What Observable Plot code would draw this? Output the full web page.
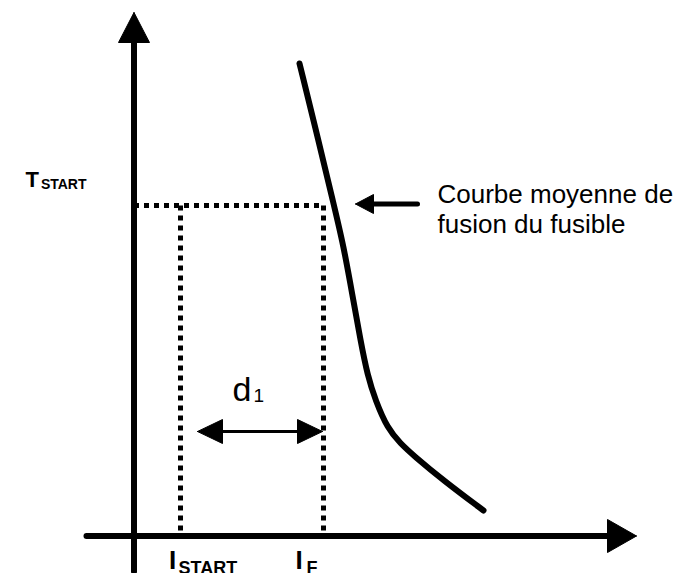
<!DOCTYPE html>
<html>
<head>
<meta charset="utf-8">
<script src="https://cdn.jsdelivr.net/npm/d3@7"></script>
<script src="https://cdn.jsdelivr.net/npm/@observablehq/plot@0.6"></script>
<style>
  html, body { margin: 0; padding: 0; background: #fff; }
  #chart svg { display: block; }
</style>
</head>
<body>
<div id="chart"></div>
<script>
// ---- Data (schematic units: current I along x, time T along y, origin at axes crossing) ----
const xAxisExtent = [-9.5, 100.5];          // current axis: left end, arrow tip
const yAxisExtent = [-7.1, 104.7];          // time axis: bottom end, arrow tip
const iStart = 9.3;                          // I_START
const iF = 37.9;                             // I_F
const tStart = 66.1;                         // T_START
const curveI = [33.1, 36.9, 39.9, 41.9, 43.7, 45.3, 46.7, 48.3, 50.7, 53.3, 55.9, 61.9, 69.9];
const curveT = [94.5, 79.1, 66.5, 58.1, 48.1, 39.1, 32.1, 27.1, 21.5, 18.5, 16.1, 11.1, 5.1];
const pointerI = [56.7, 44.3];               // arrow to curve: tail, tip
const pointerT = 66.4;
const d1I = [12.7, 37.7];                    // d1 span
const d1T = 20.9;
const labelCourbe = "Courbe moyenne de\nfusion du fusible";

// ---- Scales ----
const W = 683, H = 573;
const originPx = [133.5, 535.5];
const k = 5; // px per unit
const xDomain = [-originPx[0] / k, (W - originPx[0]) / k];
const yDomain = [-(H - originPx[1]) / k, originPx[1] / k];

// arrowhead helper (sizes in px converted to data units)
function tri(id, tx, ty, dirx, diry, lenPx, halfPx) {
  const L = lenPx / k, Hh = halfPx / k;
  const bx = tx - dirx * L, by = ty - diry * L;
  const px = -diry, py = dirx;
  return [
    {id, x: tx, y: ty},
    {id, x: bx + px * Hh, y: by + py * Hh},
    {id, x: bx - px * Hh, y: by - py * Hh},
    {id, x: tx, y: ty}
  ];
}

const heads = [
  ...tri("yaxis", 0, yAxisExtent[1], 0, 1, 30, 15.5),
  ...tri("xaxis", xAxisExtent[1], 0, 1, 0, 29, 16.5),
  ...tri("pointer", pointerI[1], pointerT, -1, 0, 18, 9.5),
  ...tri("d1L", d1I[0], d1T, -1, 0, 25, 12),
  ...tri("d1R", d1I[1], d1T, 1, 0, 25, 12)
];

const curve = curveI.map((v, i) => ({x: v, y: curveT[i]}));
const font = "'Liberation Sans', Arial, Helvetica, sans-serif";
const dotted = {x: "x", y: "y", stroke: "black", strokeWidth: 5, strokeDasharray: "5,5", strokeLinecap: "butt"};

const plot = Plot.plot({
  width: W, height: H,
  margin: 0,
  style: {background: "#fff", fontFamily: font, overflow: "visible"},
  x: {domain: xDomain, range: [0, W], axis: null},
  y: {domain: yDomain, range: [H, 0], axis: null},
  marks: [
    // dotted guides
    Plot.line([{x: 0, y: tStart}, {x: iF, y: tStart}], dotted),
    Plot.line([{x: iStart, y: tStart}, {x: iStart, y: 0}], dotted),
    Plot.line([{x: iF, y: tStart}, {x: iF, y: 0}], dotted),
    // axes
    Plot.line([{x: xAxisExtent[0], y: 0}, {x: xAxisExtent[1] - 20 / k, y: 0}], {x: "x", y: "y", stroke: "black", strokeWidth: 6}),
    Plot.line([{x: 0, y: yAxisExtent[0]}, {x: 0, y: yAxisExtent[1] - 20 / k}], {x: "x", y: "y", stroke: "black", strokeWidth: 6}),
    // melting curve
    Plot.line(curve, {x: "x", y: "y", stroke: "black", strokeWidth: 6, curve: "basis"}),
    // pointer shaft and d1 shaft
    Plot.line([{x: pointerI[0], y: pointerT}, {x: pointerI[1] + 10 / k, y: pointerT}], {x: "x", y: "y", stroke: "black", strokeWidth: 5}),
    Plot.line([{x: d1I[0] + 10 / k, y: d1T}, {x: d1I[1] - 10 / k, y: d1T}], {x: "x", y: "y", stroke: "black", strokeWidth: 3}),
    // arrowheads
    Plot.line(heads, {x: "x", y: "y", z: "id", fill: "black", stroke: "black", strokeWidth: 1}),
    // labels
    Plot.text([{x: -9.5, y: 69.5}], {x: "x", y: "y", text: () => "START", textAnchor: "end", lineAnchor: "bottom", fontSize: 14, fontWeight: "bold", fill: "black"}),
    Plot.text([{x: -9.5 - 47.5 / k, y: 69.9}], {x: "x", y: "y", text: () => "T", textAnchor: "end", lineAnchor: "bottom", fontSize: 22, fontWeight: "bold", fill: "black"}),
    Plot.text([{x: 7.0, y: -6.6}], {x: "x", y: "y", text: () => "I", textAnchor: "start", lineAnchor: "bottom", fontSize: 26, fontWeight: "bold", fill: "black"}),
    Plot.text([{x: 8.9, y: -7.6}], {x: "x", y: "y", text: () => "START", textAnchor: "start", lineAnchor: "bottom", fontSize: 18, fontWeight: "bold", fill: "black"}),
    Plot.text([{x: 32.3, y: -6.6}], {x: "x", y: "y", text: () => "I", textAnchor: "start", lineAnchor: "bottom", fontSize: 26, fontWeight: "bold", fill: "black"}),
    Plot.text([{x: 34.5, y: -7.6}], {x: "x", y: "y", text: () => "F", textAnchor: "start", lineAnchor: "bottom", fontSize: 18, fontWeight: "bold", fill: "black"}),
    Plot.text([{x: 60.7, y: 70.9}], {x: "x", y: "y", text: () => labelCourbe, textAnchor: "start", lineAnchor: "top", lineHeight: 1.154, fontSize: 26, fill: "black"}),
    Plot.text([{x: 19.7, y: 27.1}], {x: "x", y: "y", text: () => "d", textAnchor: "start", lineAnchor: "bottom", fontSize: 34, fill: "black"}),
    Plot.text([{x: 23.9, y: 26.9}], {x: "x", y: "y", text: () => "1", textAnchor: "start", lineAnchor: "bottom", fontSize: 19, fill: "black"})
  ]
});
document.getElementById("chart").appendChild(plot);
</script>
</body>
</html>
